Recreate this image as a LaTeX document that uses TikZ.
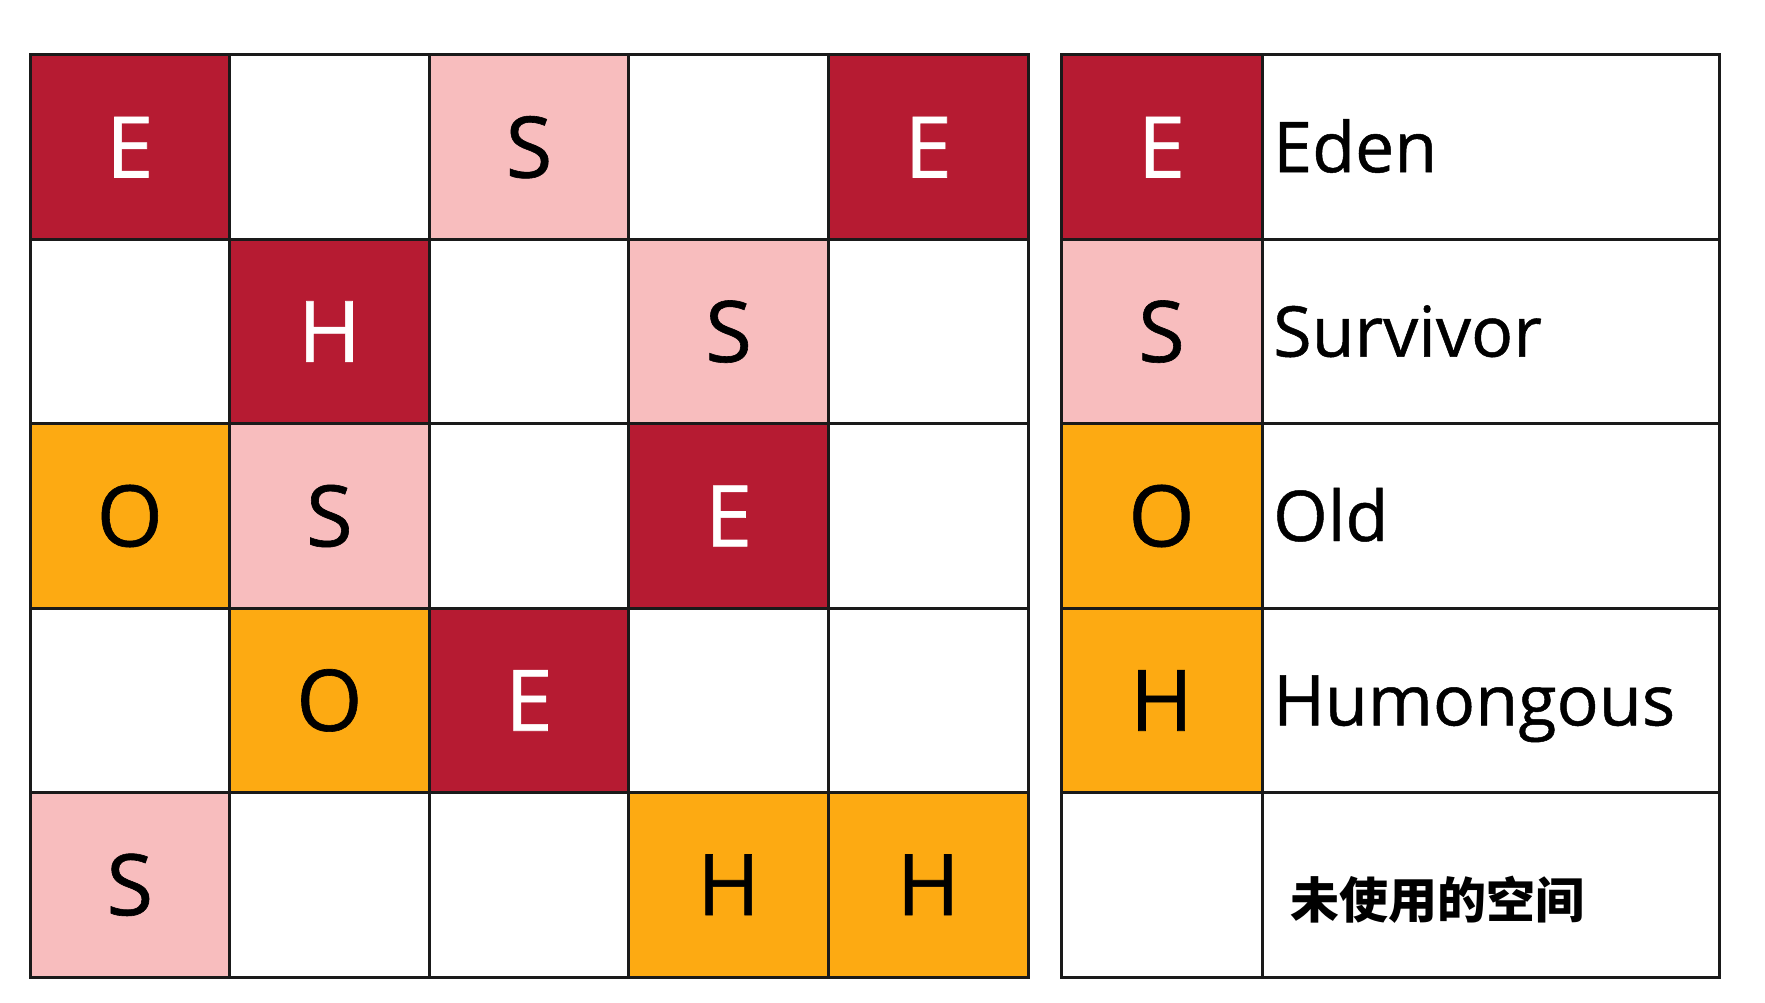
\documentclass[tikz,border=0pt]{standalone}
\usepackage{fontspec}
\setmainfont{Open Sans}[FakeBold=0.7]
\newfontfamily\cjk{Noto Sans CJK SC}
\definecolor{eden}{RGB}{182,27,50}
\definecolor{surv}{RGB}{248,189,190}
\definecolor{oldc}{RGB}{253,170,18}
\definecolor{edge}{RGB}{26,26,26}
\tikzset{
  cell/.style={draw=edge, line width=3pt, minimum width=199.6pt, minimum height=184.4pt, inner sep=0pt, outer sep=0pt, font=\fontsize{85}{90}\selectfont, anchor=center},
  ecell/.style={cell, fill=eden, text=white},
  scell/.style={cell, fill=surv, text=black},
  ocell/.style={cell, fill=oldc, text=black},
  wcell/.style={cell, fill=white},
  kcell/.style={draw=edge, line width=3pt, minimum width=201pt, minimum height=184.4pt, inner sep=0pt, outer sep=0pt, font=\fontsize{85}{90}\selectfont},
  lcell/.style={draw=edge, line width=3pt, minimum width=457pt, minimum height=184.4pt, inner sep=0pt, outer sep=0pt, fill=white},
  lbl/.style={anchor=base west, inner sep=0pt, font=\fontsize{70}{75}\selectfont},
}
\begin{document}
\begin{tikzpicture}[x=1pt,y=-1pt]
\useasboundingbox (0,0) rectangle (1765,1003);
% row 1
\node[ecell] (a11) at (129.8,147.2) {E};
\node[wcell] (a12) at (329.4,147.2) {};
\node[scell] (a13) at (529,147.2) {S};
\node[wcell] (a14) at (728.6,147.2) {};
\node[ecell] (a15) at (928.2,147.2) {E};
% row 2
\node[wcell] (a21) at (129.8,331.6) {};
\node[ecell] (a22) at (329.4,331.6) {H};
\node[wcell] (a23) at (529,331.6) {};
\node[scell] (a24) at (728.6,331.6) {S};
\node[wcell] (a25) at (928.2,331.6) {};
% row 3
\node[ocell] (a31) at (129.8,516) {O};
\node[scell] (a32) at (329.4,516) {S};
\node[wcell] (a33) at (529,516) {};
\node[ecell] (a34) at (728.6,516) {E};
\node[wcell] (a35) at (928.2,516) {};
% row 4
\node[wcell] (a41) at (129.8,700.4) {};
\node[ocell] (a42) at (329.4,700.4) {O};
\node[ecell] (a43) at (529,700.4) {E};
\node[wcell] (a44) at (728.6,700.4) {};
\node[wcell] (a45) at (928.2,700.4) {};
% row 5
\node[scell] (a51) at (129.8,884.8) {S};
\node[wcell] (a52) at (329.4,884.8) {};
\node[wcell] (a53) at (529,884.8) {};
\node[ocell] (a54) at (728.6,884.8) {H};
\node[ocell] (a55) at (928.2,884.8) {H};
% legend
\node[kcell, fill=eden, text=white] (k1) at (1161.5,147.2) {E};
\node[kcell, fill=surv] (k2) at (1161.5,331.6) {S};
\node[kcell, fill=oldc] (k3) at (1161.5,516) {O};
\node[kcell, fill=oldc] (k4) at (1161.5,700.4) {H};
\node[kcell, fill=white] (k5) at (1161.5,884.8) {};
\node[lcell] (l1) at (1490.5,147.2) {};
\node[lcell] (l2) at (1490.5,331.6) {};
\node[lcell] (l3) at (1490.5,516) {};
\node[lcell] (l4) at (1490.5,700.4) {};
\node[lcell] (l5) at (1490.5,884.8) {};
\node[lbl] (t1) at (1273,172.2) {Eden};
\node[lbl] (t2) at (1273,356.6) {Survivor};
\node[lbl] (t3) at (1273,541) {Old};
\node[lbl] (t4) at (1273,725.4) {Humongous};
\node[anchor=west, inner sep=0pt, font=\cjk\bfseries\fontsize{49}{52}\selectfont] (t5) at (1290,900) {未使用的空间};
\end{tikzpicture}
\end{document}
